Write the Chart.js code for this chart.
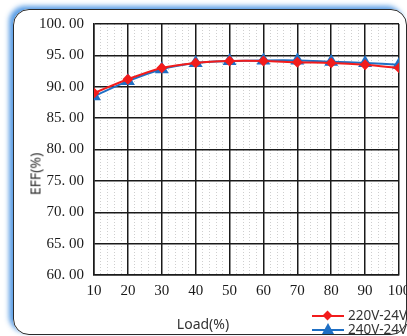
<!DOCTYPE html>
<html>
<head>
<meta charset="utf-8">
<script src="https://cdn.jsdelivr.net/npm/chart.js@4.4.1/dist/chart.umd.min.js"></script>
<style>
    html, body { margin: 0; padding: 0; background: #fff; overflow: hidden; }
    #wrap { position: relative; width: 407px; height: 336px; overflow: hidden; background: #fff; }
    #frame {
        position: absolute; left: 13px; top: 9px; width: 392px; height: 324px;
        border: 1.5px solid #2a2a2a; border-radius: 16px;
        box-shadow: -4px -3px 5px rgba(60, 140, 225, 0.85);
    }
    #chart-box { position: absolute; left: 0; top: 0; width: 407px; height: 336px; }
    #chart-box canvas { display: block; }
    .title { position: absolute; font-family: "Noto Sans", sans-serif; font-size: 14px; color: #333; white-space: nowrap; }
    #ytitle { left: 35px; top: 174px; transform: translate(-50%, -50%) rotate(-90deg); }
    #xtitle { left: 203px; top: 323px; transform: translate(-50%, -50%); }
    .legend-item { position: absolute; left: 312px; height: 14px; white-space: nowrap;
        font-family: "Noto Sans", sans-serif; font-size: 13.5px; color: #333; }
    .legend-item .line { position: absolute; left: 0; top: 6px; width: 32px; height: 2px; }
    .legend-item .label { position: absolute; left: 36px; top: -3px; line-height: 18px; }
</style>
</head>
<body>
<div id="wrap">
    <div id="frame"></div>
    <div id="chart-box"><canvas id="eff-canvas" width="407" height="336"></canvas></div>
    <div class="title" id="ytitle">EFF(%)</div>
    <div class="title" id="xtitle">Load(%)</div>
    <div id="legend"></div>
</div>
<script>
    var loads = [10, 20, 30, 40, 50, 60, 70, 80, 90, 100];
    var eff220 = [89.0, 91.2, 93.0, 93.8, 94.1, 94.1, 93.9, 93.8, 93.5, 93.0];
    var eff240 = [88.5, 90.9, 92.8, 93.8, 94.1, 94.2, 94.2, 94.0, 93.8, 93.5];
    var seriesNames = ['220V-24V', '240V-24V'];
    var seriesColors = ['#f21c1c', '#1f6fc4'];

    function toPoints(values) {
        return values.map(function (v, i) {
            return { x: loads[i], y: v };
        });
    }

    // solid black lines every 10%, light dotted ones in between
    function isMajorX(ctx) {
        return ctx.tick && ctx.tick.value % 10 === 0;
    }

    function buildLegend() {
        var legendEl = document.getElementById('legend');
        var tops = [309, 323];
        seriesNames.forEach(function (name, i) {
            var item = document.createElement('div');
            item.className = 'legend-item';
            item.style.top = tops[i] + 'px';
            var line = document.createElement('span');
            line.className = 'line';
            line.style.background = seriesColors[i];
            item.appendChild(line);
            var mark = document.createElement('span');
            mark.style.position = 'absolute';
            if (i === 0) {
                mark.style.left = '12px';
                mark.style.top = '3px';
                mark.style.width = '7px';
                mark.style.height = '7px';
                mark.style.background = seriesColors[i];
                mark.style.transform = 'rotate(45deg)';
            } else {
                mark.style.left = '10px';
                mark.style.top = '0px';
                mark.style.width = '0';
                mark.style.height = '0';
                mark.style.borderLeft = '6px solid transparent';
                mark.style.borderRight = '6px solid transparent';
                mark.style.borderBottom = '11px solid ' + seriesColors[i];
            }
            item.appendChild(mark);
            var label = document.createElement('span');
            label.className = 'label';
            label.textContent = name;
            item.appendChild(label);
            legendEl.appendChild(item);
        });
    }

    var tickFont = { family: "'Liberation Serif', serif", size: 15 };

    new Chart(document.getElementById('eff-canvas').getContext('2d'), {
        type: 'line',
        data: {
            datasets: [
                {
                    label: seriesNames[0],
                    data: toPoints(eff220),
                    borderColor: seriesColors[0],
                    backgroundColor: seriesColors[0],
                    borderWidth: 2,
                    pointStyle: 'rectRot',
                    pointRadius: 4,
                    tension: 0.3,
                    fill: false,
                },
                {
                    label: seriesNames[1],
                    data: toPoints(eff240),
                    borderColor: seriesColors[1],
                    backgroundColor: seriesColors[1],
                    borderWidth: 2,
                    pointStyle: 'triangle',
                    pointRadius: 6,
                    tension: 0.3,
                    fill: false,
                },
            ],
        },
        options: {
            responsive: false,
            animation: false,
            layout: { padding: { left: 0, top: 24, right: 7, bottom: 0 } },
            plugins: {
                legend: { display: false },
                tooltip: { enabled: false },
            },
            scales: {
                x: {
                    type: 'linear',
                    min: 10,
                    max: 100,
                    afterFit: function (scale) {
                        scale.height = 61;
                        scale.paddingLeft = 0;
                        scale.paddingRight = 0;
                    },
                    ticks: {
                        stepSize: 2,
                        autoSkip: false,
                        maxRotation: 0,
                        padding: 7,
                        color: '#1a1a1a',
                        font: tickFont,
                        callback: function (value) {
                            return value % 10 === 0 ? String(value) : '';
                        },
                    },
                    grid: {
                        drawTicks: false,
                        color: function (ctx) {
                            return isMajorX(ctx) ? '#1a1a1a' : '#cfcfcf';
                        },
                        lineWidth: function (ctx) {
                            return isMajorX(ctx) ? 1.5 : 1;
                        },
                    },
                    border: {
                        color: '#1a1a1a',
                        width: 1.5,
                        dash: function (ctx) {
                            return ctx.tick && ctx.tick.value % 10 !== 0 ? [1, 2] : [];
                        },
                    },
                },
                y: {
                    min: 60,
                    max: 100,
                    afterFit: function (scale) {
                        scale.width = 94;
                        scale.paddingTop = 0;
                        scale.paddingBottom = 0;
                    },
                    ticks: {
                        stepSize: 5,
                        padding: 10,
                        color: '#1a1a1a',
                        font: tickFont,
                        callback: function (value) {
                            return value.toFixed(2).replace('.', '. ');
                        },
                    },
                    grid: {
                        drawTicks: false,
                        color: '#1a1a1a',
                        lineWidth: 1.5,
                    },
                    border: { color: '#1a1a1a', width: 1.5 },
                },
            },
        },
    });

    buildLegend();
</script>
</body>
</html>
